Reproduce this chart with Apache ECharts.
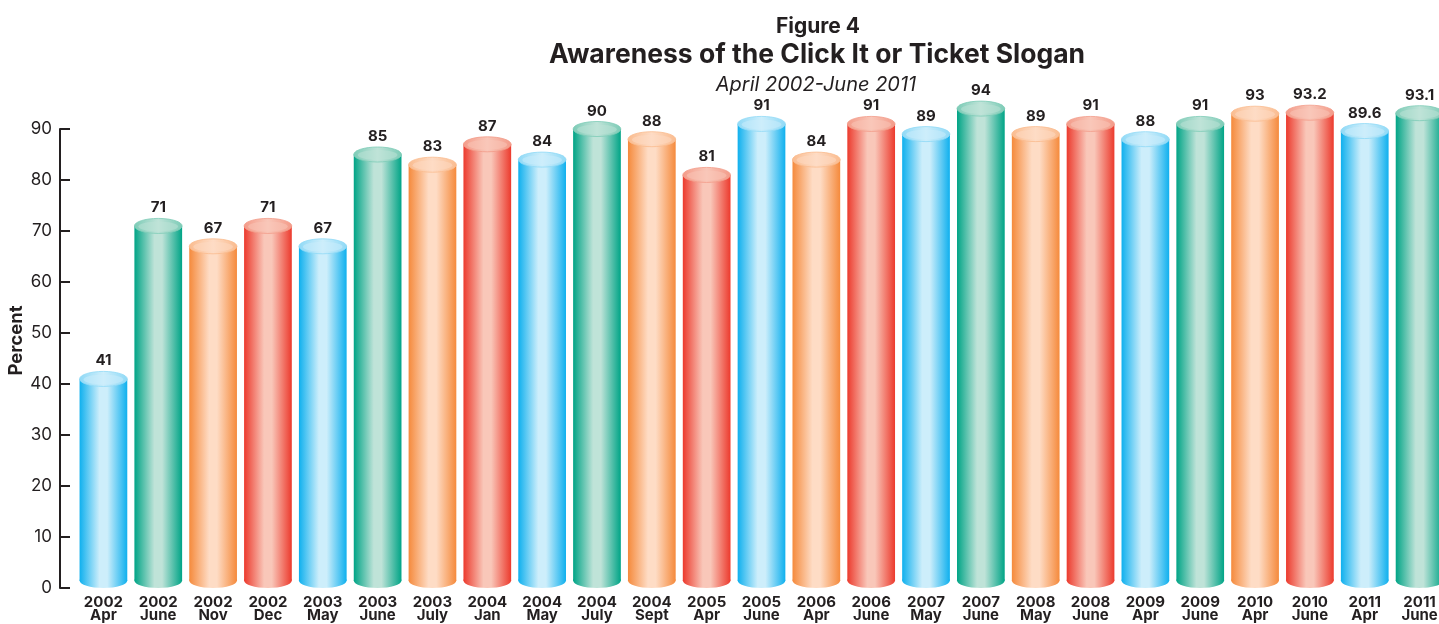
<!DOCTYPE html>
<html>
<head>
<meta charset="utf-8">
<script src="https://cdn.jsdelivr.net/npm/echarts@6/dist/echarts.min.js"></script>
<style>
html,body{margin:0;padding:0;background:#fff;}
#chart{width:1439px;height:624px;}
</style>
</head>
<body>
<div id="chart"></div>
<script>
const categories = ['2002\nApr','2002\nJune','2002\nNov','2002\nDec','2003\nMay','2003\nJune','2003\nJuly','2004\nJan','2004\nMay','2004\nJuly','2004\nSept','2005\nApr','2005\nJune','2006\nApr','2006\nJune','2007\nMay','2007\nJune','2008\nMay','2008\nJune','2009\nApr','2009\nJune','2010\nApr','2010\nJune','2011\nApr','2011\nJune'];
const values = [41,71,67,71,67,85,83,87,84,90,88,81,91,84,91,89,94,89,91,88,91,93,93.2,89.6,93.1];
const barColors = ['blue','green','orange','red','blue','green','orange','red','blue','green','orange','red','blue','orange','red','blue','green','orange','red','blue','green','orange','red','blue','green'];
const yTicks = [0,10,20,30,40,50,60,70,80,90];

const palette = {
  blue:   {edge:'#0fb0ee', light:'#cdeefb', rim:'#8fd9f6'},
  green:  {edge:'#00a486', light:'#bfe3d8', rim:'#7ccbb6'},
  orange: {edge:'#f58a3c', light:'#fedcc5', rim:'#fabb8e'},
  red:    {edge:'#ec3a2d', light:'#f9c7b9', rim:'#f39a88'}
};
const FONT = 'Inter, "Liberation Sans", Arial, sans-serif';

function bodyGrad(c){
  return new echarts.graphic.LinearGradient(0,0,1,0,[
    {offset:0,color:c.edge},{offset:0.42,color:c.light},{offset:0.58,color:c.light},{offset:1,color:c.edge}
  ]);
}
function topGrad(c){
  return new echarts.graphic.LinearGradient(0,0,1,0,[
    {offset:0,color:c.rim},{offset:0.5,color:c.light},{offset:1,color:c.rim}
  ]);
}

const chart = echarts.init(document.getElementById('chart'));
chart.setOption({
  animation:false,
  title:[
    {text:'Figure 4', left:813, top:11, textAlign:'center', textStyle:{fontFamily:FONT,fontWeight:'bold',fontSize:21,color:'#231f20'}},
    {text:'Awareness of the Click It or Ticket Slogan', left:812, top:37, textAlign:'center', textStyle:{fontFamily:FONT,fontWeight:'bold',fontSize:26.5,color:'#231f20'}},
    {text:'April 2002-June 2011', left:811, top:70, textAlign:'center', textStyle:{fontFamily:FONT,fontStyle:'italic',fontWeight:'normal',fontSize:20,color:'#231f20'}}
  ],
  grid:{left:76, right:-8, top:129, bottom:36, containLabel:false, outerBoundsMode:'none'},
  xAxis:{
    type:'category', data:categories,
    axisLine:{show:false}, axisTick:{show:false}, splitLine:{show:false},
    axisLabel:{interval:0, margin:8, fontFamily:FONT, fontWeight:'bold', fontSize:15, lineHeight:13, color:'#231f20'}
  },
  yAxis:{
    type:'value', min:0, max:90, interval:10, offset:16,
    name:'Percent', nameLocation:'middle', nameRotate:90, nameGap:34, nameMoveOverlap:false,
    nameTextStyle:{fontFamily:FONT, fontWeight:'bold', fontSize:18.5, color:'#231f20', padding:[0,0,0,36]},
    axisLine:{show:true, lineStyle:{color:'#231f20', width:2}},
    axisTick:{show:true, inside:true, length:10, lineStyle:{color:'#231f20', width:2}},
    splitLine:{show:false},
    axisLabel:{margin:8, fontFamily:FONT, fontSize:17, color:'#231f20', customValues: yTicks}
  },
  series:[{
    type:'custom',
    clip:false,
    data: values.map((v,i)=>[i,v]),
    renderItem:function(params, api){
      const i = api.value(0), v = api.value(1);
      const top = api.coord([i, v]);
      const base = api.coord([i, 0]);
      const w = api.size([1,0])[0]*0.87;
      const rx = w/2, ry = 7.5;
      const c = palette[barColors[i]];
      const g = bodyGrad(c);
      return {type:'group', children:[
        {type:'rect', shape:{x:top[0]-rx, y:top[1], width:w, height:Math.max(0, base[1]-ry-top[1])}, style:{fill:g}},
        {type:'ellipse', shape:{cx:top[0], cy:base[1]-ry, rx:rx, ry:ry}, style:{fill:g}},
        {type:'ellipse', shape:{cx:top[0], cy:top[1], rx:rx, ry:ry}, style:{fill:topGrad(c), stroke:c.rim, lineWidth:0.8}},
        {type:'ellipse', shape:{cx:top[0], cy:top[1]+0.5, rx:rx-4, ry:ry-2.5}, style:{fill:c.light, opacity:0.5}},
        {type:'text', x:top[0], y:top[1]-ry-3, style:{text:String(values[i]), align:'center', verticalAlign:'bottom', fontFamily:FONT, fontWeight:'bold', fontSize:15, fill:'#231f20'}}
      ]};
    }
  }]
});
</script>
</body>
</html>
